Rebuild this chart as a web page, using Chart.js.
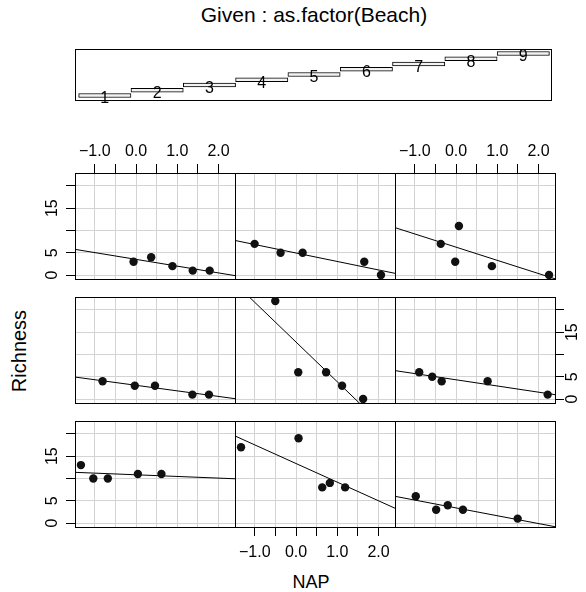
<!DOCTYPE html>
<html>
<head>
<meta charset="utf-8">
<script src="https://cdn.jsdelivr.net/npm/chart.js@4.4.1/dist/chart.umd.min.js"></script>
<style>
  body { margin: 0; background: #fff; }
  #wrap { position: relative; width: 586px; height: 592px; overflow: hidden; font-family: "Liberation Sans", Arial, sans-serif; color: #000; }
  #wrap canvas { position: absolute; }
  .lbl { position: absolute; white-space: nowrap; line-height: 1; transform: translate(-50%, -50%); }
</style>
</head>
<body>
<div id="wrap">
  <div class="lbl" style="left:314px; top:14px; font-size:21px;">Given : as.factor(Beach)</div>
  <div class="lbl" style="left:19px; top:351px; font-size:20px; transform: translate(-50%, -50%) rotate(-90deg);">Richness</div>
  <div class="lbl" style="left:311px; top:582px; font-size:18px;">NAP</div>
</div>
<script>
// RIKZ data, one array per beach
const beachLevels = [1, 2, 3, 4, 5, 6, 7, 8, 9];
const napValues = [
  [0.045, -1.036, -1.336, 0.616, -0.684],
  [1.190, 0.820, 0.635, 0.061, -1.334],
  [-0.976, 1.494, -0.201, -0.482, 0.167],
  [1.768, -0.030, 0.460, 1.367, -0.811],
  [1.117, -0.503, 0.729, 1.627, 0.054],
  [-0.578, -0.348, 2.222, -0.893, 0.766],
  [0.883, 1.786, 1.375, -0.060, 0.367],
  [-0.375, -1.005, 2.060, 1.655, 0.160],
  [0.070, -0.370, -0.020, 0.870, 2.255]
];
const richnessValues = [
  [11, 10, 13, 11, 10],
  [8, 9, 8, 19, 17],
  [6, 1, 4, 3, 3],
  [1, 3, 3, 1, 4],
  [3, 22, 6, 0, 6],
  [5, 4, 1, 6, 4],
  [2, 1, 1, 3, 4],
  [5, 7, 0, 3, 5],
  [11, 7, 3, 2, 0]
];
const napTicks = [-1, -0.5, 0, 0.5, 1, 1.5, 2];
const napTickLabels = ['\u22121.0', '', '0.0', '', '1.0', '', '2.0'];
const richTicks = [0, 5, 10, 15, 20];
const richTickLabels = ['0', '5', '', '15', ''];
const napRange = [-1.48, 2.40];
const richRange = [-0.88, 22.88];

// layout of the 3x3 panel grid
const colLeft = [75, 235, 395];
const rowTop = [173, 297, 421];
const PW = 160, PH = 106, M = 40;
const FONT = '"Liberation Sans", Arial, sans-serif';

const wrap = document.getElementById('wrap');

function addCanvas(left, top, w, h) {
  const c = document.createElement('canvas');
  c.width = w; c.height = h;
  c.style.left = left + 'px'; c.style.top = top + 'px';
  c.style.width = w + 'px'; c.style.height = h + 'px';
  wrap.appendChild(c);
  return c;
}

// least squares line, drawn across the whole NAP range (like abline)
function fitLine(xs, ys) {
  const n = xs.length;
  const mx = xs.reduce((a, b) => a + b, 0) / n;
  const my = ys.reduce((a, b) => a + b, 0) / n;
  let sxy = 0, sxx = 0;
  for (let i = 0; i < n; i++) {
    sxy += (xs[i] - mx) * (ys[i] - my);
    sxx += (xs[i] - mx) * (xs[i] - mx);
  }
  const b = sxy / sxx, a = my - b * mx;
  return napRange.map(x => ({ x: x, y: a + b * x }));
}

function makeScale(pos, range, ticks, labels, show, pad) {
  const horiz = pos === 'top' || pos === 'bottom';
  const main = pos === 'bottom' || pos === 'left';
  const s = {
    type: 'linear',
    position: pos,
    min: range[0],
    max: range[1],
    afterBuildTicks: sc => { sc.ticks = ticks.map(v => ({ value: v })); },
    afterFit: sc => { if (horiz) sc.height = M; else sc.width = M; },
    grid: {
      display: true,
      drawOnChartArea: main,
      color: '#d3d3d3',
      lineWidth: 1,
      drawTicks: show,
      tickLength: 9,
      tickColor: '#000',
      tickWidth: 1
    },
    border: { display: true, color: '#000', width: 1 },
    ticks: {
      display: show,
      autoSkip: false,
      padding: pad,
      color: '#000',
      font: { family: FONT, size: 16 },
      minRotation: horiz ? 0 : 90,
      maxRotation: horiz ? 0 : 90,
      callback: (v, i) => labels[i]
    }
  };
  if (!horiz) s.ticks.crossAlign = 'center';
  return s;
}

beachLevels.forEach((lvl, b) => {
  const col = b % 3;
  const rowFromBottom = Math.floor(b / 3);
  const row = 2 - rowFromBottom;
  const showTop = row === 0 && col !== 1;
  const showBottom = row === 2 && col === 1;
  const showLeft = col === 0 && row !== 1;
  const showRight = col === 2 && row === 1;

  const canvas = addCanvas(colLeft[col] - M, rowTop[row] - M, PW + 2 * M, PH + 2 * M);
  const pts = napValues[b].map((x, i) => ({ x: x, y: richnessValues[b][i] }));

  new Chart(canvas, {
    type: 'scatter',
    data: {
      datasets: [
        {
          data: pts,
          pointRadius: 4.2,
          pointBorderWidth: 0,
          backgroundColor: '#111',
          xAxisID: 'x', yAxisID: 'y'
        },
        {
          data: fitLine(napValues[b], richnessValues[b]),
          showLine: true,
          pointRadius: 0,
          borderColor: '#000',
          borderWidth: 1,
          xAxisID: 'x', yAxisID: 'y'
        }
      ]
    },
    options: {
      responsive: false,
      animation: false,
      layout: { padding: 0 },
      plugins: { legend: { display: false }, tooltip: { enabled: false } },
      scales: {
        x: makeScale('bottom', napRange, napTicks, napTickLabels, showBottom, 7),
        x2: makeScale('top', napRange, napTicks, napTickLabels, showTop, 3),
        y: makeScale('left', richRange, richTicks, richTickLabels, showLeft, 5),
        y2: makeScale('right', richRange, richTicks, richTickLabels, showRight, 0)
      }
    }
  });
});

// the "given" panel: one step per beach level
const levelLabels = {
  id: 'levelLabels',
  afterDatasetsDraw(chart) {
    const ctx = chart.ctx;
    const meta = chart.getDatasetMeta(0);
    ctx.save();
    ctx.font = '16px ' + FONT;
    ctx.fillStyle = '#000';
    ctx.textAlign = 'center';
    ctx.textBaseline = 'middle';
    meta.data.forEach((bar, i) => {
      ctx.fillText(String(beachLevels[i]), (bar.x + bar.base) / 2, bar.y + 3.5);
    });
    ctx.restore();
  }
};

const GM = 6;
function boxScale(pos, min, max) {
  const horiz = pos === 'top' || pos === 'bottom';
  return {
    type: 'linear', position: pos, min: min, max: max, offset: false,
    afterFit: sc => { if (horiz) sc.height = GM; else sc.width = GM; },
    grid: { display: false, offset: false },
    border: { display: true, color: '#000', width: 1 },
    ticks: { display: false }
  };
}

const givenCanvas = addCanvas(75 - GM, 49 - GM, 476 + 2 * GM, 51 + 2 * GM);
new Chart(givenCanvas, {
  type: 'bar',
  data: {
    datasets: [{
      data: beachLevels.map(l => ({ y: l, x: [l - 0.5, l + 0.5] })),
      backgroundColor: '#f2f2f2',
      borderColor: '#000',
      borderWidth: 1,
      borderSkipped: false,
      barThickness: 4
    }]
  },
  options: {
    indexAxis: 'y',
    responsive: false,
    animation: false,
    layout: { padding: 0 },
    plugins: { legend: { display: false }, tooltip: { enabled: false } },
    scales: {
      x: boxScale('bottom', 0.43, 9.53),
      x2: boxScale('top', 0.43, 9.53),
      y: boxScale('left', 0.14, 9.86),
      y2: boxScale('right', 0.14, 9.86)
    }
  },
  plugins: [levelLabels]
});
</script>
</body>
</html>
